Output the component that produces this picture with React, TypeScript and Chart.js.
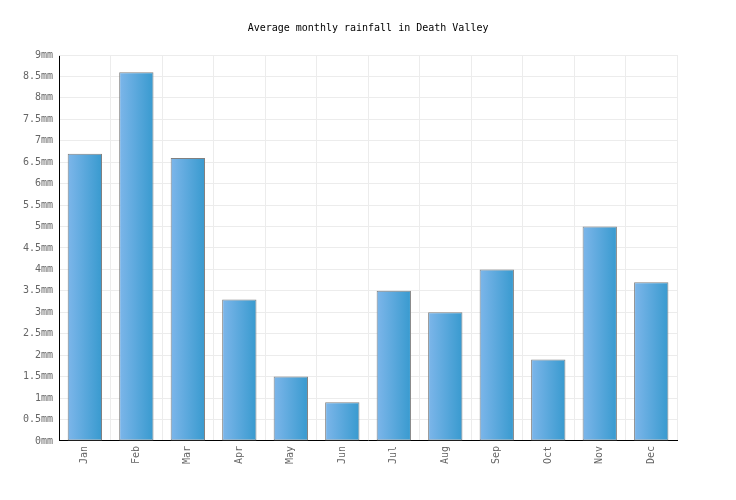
import React, { useEffect, useRef } from "react";
import { Chart, registerables } from "chart.js";

Chart.register(...registerables);

const months = ["Jan", "Feb", "Mar", "Apr", "May", "Jun", "Jul", "Aug", "Sep", "Oct", "Nov", "Dec"];
const rainfall = [6.7, 8.6, 6.6, 3.3, 1.5, 0.9, 3.5, 3.0, 4.0, 1.9, 5.0, 3.7];
const chartTitle = "Average monthly rainfall in Death Valley";
const unit = "mm";

const FONT = "'DejaVu Sans Mono', 'Liberation Mono', monospace";
const BAR_PCT = 2 / 3;

export default function App() {
  const ref = useRef<HTMLCanvasElement | null>(null);

  useEffect(() => {
    document.body.style.margin = "0";
    const canvas = ref.current!;
    const chart = new Chart(canvas, {
      type: "bar",
      data: {
        labels: months,
        datasets: [
          {
            data: rainfall,
            backgroundColor: (ctx: any) => {
              const c = ctx.chart;
              const xs = c.scales?.x;
              const area = c.chartArea;
              if (!xs || !area || ctx.dataIndex === undefined) return "#5aa5dc";
              const cx = xs.getPixelForValue(ctx.dataIndex);
              const w = (area.right - area.left) / months.length * BAR_PCT;
              if (!isFinite(cx) || !isFinite(w)) return "#5aa5dc";
              const g = c.ctx.createLinearGradient(cx - w / 2, 0, cx + w / 2, 0);
              g.addColorStop(0, "#7db6ea");
              g.addColorStop(1, "#389acf");
              return g;
            },
            borderColor: "#808080",
            borderWidth: 1,
            borderSkipped: false,
            barPercentage: BAR_PCT,
            categoryPercentage: 1,
          },
        ],
      },
      options: {
        responsive: false,
        animation: false,
        devicePixelRatio: 1,
        layout: { padding: { top: 22, left: 17, right: 59, bottom: 31 } },
        plugins: {
          legend: { display: false },
          tooltip: { enabled: false },
          title: {
            display: true,
            fullSize: false,
            text: chartTitle,
            color: "#000",
            font: { family: FONT, size: 10, weight: "normal" },
            padding: { top: 0, bottom: 21 },
          },
        },
        scales: {
          x: {
            offset: true,
            grid: {
              color: "#ececec",
              offset: true,
              drawTicks: false,
            },
            border: { color: "#000", width: 1 },
            ticks: {
              color: "#666",
              font: { family: FONT, size: 10 },
              minRotation: 90,
              maxRotation: 90,
              padding: 5,
            },
          },
          y: {
            min: 0,
            max: 9,
            grid: { color: "#ececec", drawTicks: false },
            border: { color: "#000", width: 1 },
            ticks: {
              stepSize: 0.5,
              color: "#666",
              font: { family: FONT, size: 10 },
              padding: 6,
              callback: (v: any) => `${v}${unit}`,
            },
          },
        },
      },
      plugins: [
        {
          id: "topBorder",
          afterDraw(c: any) {
            const { left, right, top } = c.chartArea;
            const g = c.ctx;
            g.save();
            g.strokeStyle = "#ececec";
            g.lineWidth = 1;
            g.beginPath();
            g.moveTo(left, top + 0.5);
            g.lineTo(right, top + 0.5);
            g.stroke();
            g.restore();
          },
        },
      ],
    } as any);
    return () => chart.destroy();
  }, []);

  return (
    <div style={{ width: 736, height: 500 }}>
      <canvas ref={ref} width={736} height={500} style={{ display: "block" }} />
    </div>
  );
}
